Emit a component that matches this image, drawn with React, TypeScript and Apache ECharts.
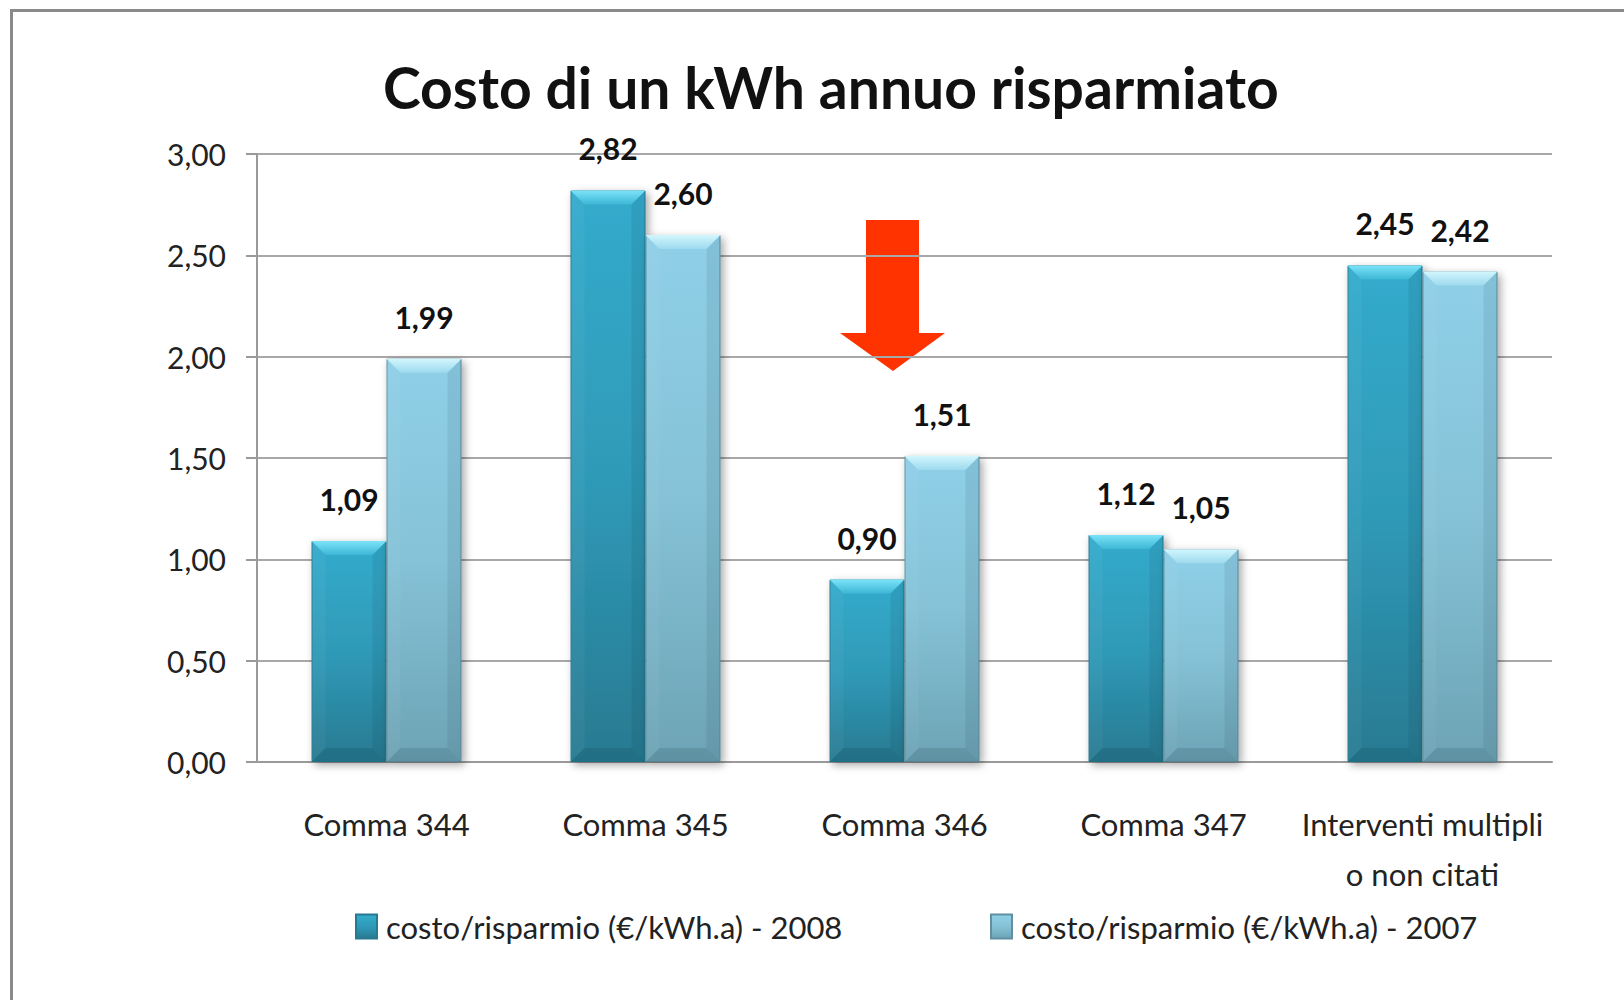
import React, { useEffect, useRef } from 'react';
import * as echarts from 'echarts';

const titleText = 'Costo di un kWh annuo risparmiato';
const categories = ['Comma 344', 'Comma 345', 'Comma 346', 'Comma 347', 'Interventi multipli\no non citati'];
const seriesNames = ['costo/risparmio (€/kWh.a) - 2008', 'costo/risparmio (€/kWh.a) - 2007'];
const values2008 = [1.09, 2.82, 0.9, 1.12, 2.45];
const values2007 = [1.99, 2.6, 1.51, 1.05, 2.42];
const yTickLabels = ['0,00', '0,50', '1,00', '1,50', '2,00', '2,50', '3,00'];

const FONT = "Lato, 'Noto Sans', sans-serif";
const BAR_W = 75;
const BEVEL = 14;

const fmt = (v: number) => v.toFixed(2).replace('.', ',');

function bevelRenderer(seriesIndex: number, topLight: string, topMid: string) {
  return (params: any, api: any) => {
    const idx = api.value(0);
    const v = api.value(1);
    const top = api.coord([idx, v]);
    const base = api.coord([idx, 0]);
    const xl = top[0] - BAR_W + seriesIndex * BAR_W;
    const xr = xl + BAR_W;
    const yt = top[1];
    const yb = base[1];
    const b = Math.min(BEVEL, (yb - yt) / 2);
    return {
      type: 'group',
      silent: true,
      children: [
        {
          type: 'polygon',
          shape: { points: [[xl, yt], [xr, yt], [xr - b, yt + b], [xl + b, yt + b]] },
          style: {
            fill: new echarts.graphic.LinearGradient(0, 0, 0, 1, [
              { offset: 0, color: topLight },
              { offset: 1, color: topMid },
            ]),
          },
        },
        {
          type: 'polygon',
          shape: { points: [[xl, yb], [xr, yb], [xr - b, yb - b], [xl + b, yb - b]] },
          style: { fill: 'rgba(0,30,40,0.12)' },
        },
        {
          type: 'polygon',
          shape: { points: [[xl, yt], [xl + b, yt + b], [xl + b, yb - b], [xl, yb]] },
          style: { fill: 'rgba(255,255,255,0.04)' },
        },
        {
          type: 'polygon',
          shape: { points: [[xr, yt], [xr - b, yt + b], [xr - b, yb - b], [xr, yb]] },
          style: { fill: 'rgba(0,30,40,0.08)' },
        },
      ],
    };
  };
}

export default function App() {
  const ref = useRef<HTMLDivElement>(null);
  useEffect(() => {
    if (!ref.current) return;
    const chart = echarts.init(ref.current, undefined, { renderer: 'svg' });
    const darkGrad = new echarts.graphic.LinearGradient(0, 0, 0, 1, [
      { offset: 0, color: '#34abcc' },
      { offset: 0.5, color: '#2f9ab8' },
      { offset: 1, color: '#287a91' },
    ]);
    const lightGrad = new echarts.graphic.LinearGradient(0, 0, 0, 1, [
      { offset: 0, color: '#8fd0e8' },
      { offset: 0.5, color: '#85c2d7' },
      { offset: 1, color: '#6da3b5' },
    ]);
    const labelCfg = {
      show: true,
      position: 'top',
      distance: 27,
      fontFamily: FONT,
      fontWeight: 'bold',
      fontSize: 30,
      color: '#111',
      formatter: (p: any) => fmt(p.value),
    };
    const legendBase = {
      top: 906,
      itemWidth: 21,
      itemHeight: 24,
      icon: 'rect',
      textStyle: { fontFamily: FONT, fontSize: 31, color: '#222', padding: [0, 0, 0, 4] },
    };
    chart.setOption({
      animation: false,
      backgroundColor: '#ffffff',
      title: {
        text: titleText,
        left: 378,
        top: 53,
        textStyle: { fontFamily: FONT, fontWeight: 'bold', fontSize: 57, color: '#111' },
      },
      grid: { left: 257, right: 72, top: 154, bottom: 238 },
      legend: [
        { ...legendBase, data: [seriesNames[0]], left: 350 },
        { ...legendBase, data: [seriesNames[1]], left: 985 },
      ],
      xAxis: {
        type: 'category',
        data: categories,
        axisLine: { show: true, lineStyle: { color: '#9a9a9a', width: 2 } },
        axisTick: { show: false },
        axisLabel: {
          margin: 37,
          fontFamily: FONT,
          fontSize: 31,
          lineHeight: 50,
          color: '#222',
          interval: 0,
        },
      },
      yAxis: {
        type: 'value',
        min: 0,
        max: 3,
        interval: 0.5,
        axisLine: { show: true, lineStyle: { color: '#9a9a9a', width: 2 } },
        axisTick: { show: true, inside: false, length: 11, lineStyle: { color: '#9a9a9a', width: 2 } },
        splitLine: { show: true, lineStyle: { color: '#a8a8a8', width: 2 } },
        axisLabel: {
          margin: 31,
          fontFamily: FONT,
          fontSize: 30,
          color: '#222',
          formatter: (v: number) => yTickLabels[Math.round(v / 0.5)],
        },
      },
      series: [
        {
          name: seriesNames[0],
          type: 'bar',
          data: values2008,
          barWidth: BAR_W,
          barGap: '0%',
          itemStyle: {
            color: darkGrad,
            borderColor: '#287a90',
            borderWidth: 1,
            shadowBlur: 8,
            shadowColor: 'rgba(0,0,0,0.35)',
            shadowOffsetX: 3,
            shadowOffsetY: 3,
          },
          label: labelCfg,
        },
        {
          name: seriesNames[1],
          type: 'bar',
          data: values2007,
          barWidth: BAR_W,
          barGap: '0%',
          itemStyle: {
            color: lightGrad,
            borderColor: '#5f8fa0',
            borderWidth: 1,
            shadowBlur: 8,
            shadowColor: 'rgba(0,0,0,0.35)',
            shadowOffsetX: 3,
            shadowOffsetY: 3,
          },
          label: labelCfg,
        },
        {
          name: 'bevel-2008',
          type: 'custom',
          silent: true,
          z: 3,
          data: values2008.map((v, i) => [i, v]),
          encode: { x: 0, y: 1 },
          renderItem: bevelRenderer(0, '#7be3f8', '#3db6d6'),
        },
        {
          name: 'bevel-2007',
          type: 'custom',
          silent: true,
          z: 3,
          data: values2007.map((v, i) => [i, v]),
          encode: { x: 0, y: 1 },
          renderItem: bevelRenderer(1, '#d2f6fd', '#9ddaee'),
        },
      ],
      graphic: [
        {
          type: 'rect',
          silent: true,
          shape: { x: 11.5, y: 10.5, width: 1700, height: 1100 },
          style: { fill: 'none', stroke: '#8a8a8a', lineWidth: 3 },
        },
        {
          type: 'polygon',
          silent: true,
          shape: {
            points: [
              [866, 220],
              [919, 220],
              [919, 333],
              [945, 333],
              [893, 371],
              [840, 333],
              [866, 333],
            ],
          },
          style: { fill: '#ff3300' },
        },
      ],
    });
    return () => chart.dispose();
  }, []);
  return (
    <div
      ref={ref}
      style={{ position: 'fixed', left: 0, top: 0, width: 1624, height: 1000, background: '#fff' }}
    />
  );
}
